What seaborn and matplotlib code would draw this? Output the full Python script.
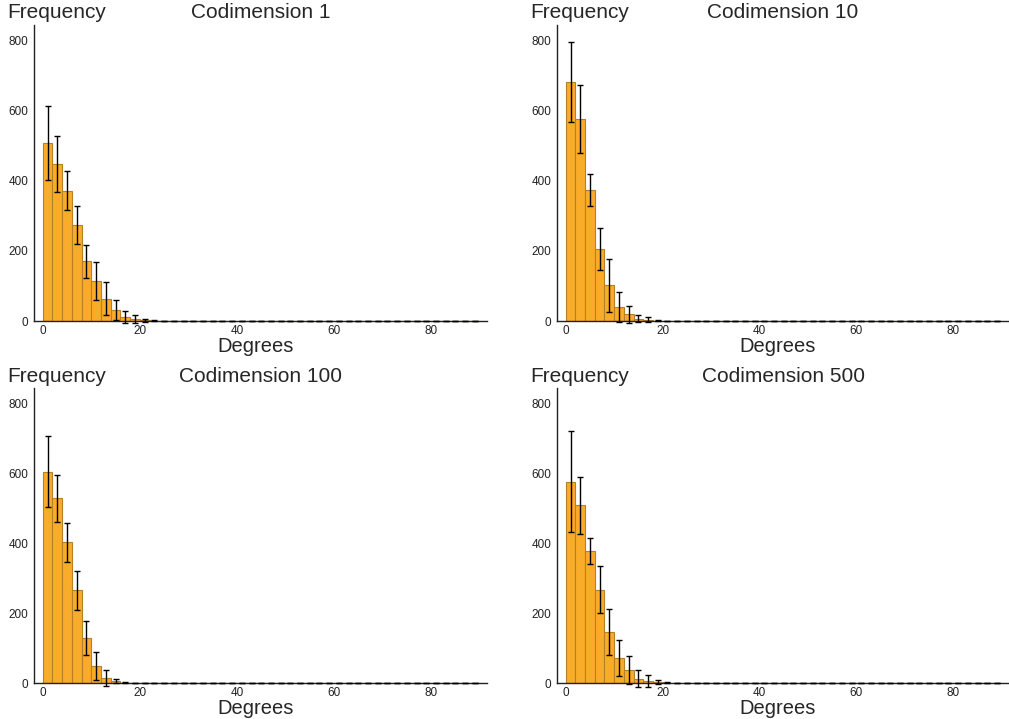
"""
Histograms of angles (in degrees) for four codimensions, with error bars.
"""
import numpy as np
import pandas as pd
from matplotlib import pyplot as plt
import seaborn as sns

# Bin centres: 2-degree bins from 0 to 90
bin_centers = list(range(1, 90, 2))

titles = ["Codimension 1", "Codimension 10", "Codimension 100", "Codimension 500"]

freq_codim1 = [508, 447, 372, 274, 170, 114, 64, 31, 11, 5, 2, 1, 0, 0, 0,
               0, 0, 0, 0, 0, 0, 0, 0, 0, 0, 0, 0, 0, 0, 0,
               0, 0, 0, 0, 0, 0, 0, 0, 0, 0, 0, 0, 0, 0, 0]
err_codim1 = [106, 80, 55, 53, 47, 54, 46, 28, 17, 11, 4, 2, 1, 0, 0,
              0, 0, 0, 0, 0, 0, 0, 0, 0, 0, 0, 0, 0, 0, 0,
              0, 0, 0, 0, 0, 0, 0, 0, 0, 0, 0, 0, 0, 0, 0]

freq_codim10 = [682, 577, 374, 205, 102, 40, 19, 7, 4, 1, 0, 0, 0, 0, 0,
                0, 0, 0, 0, 0, 0, 0, 0, 0, 0, 0, 0, 0, 0, 0,
                0, 0, 0, 0, 0, 0, 0, 0, 0, 0, 0, 0, 0, 0, 0]
err_codim10 = [114, 96, 47, 60, 76, 43, 25, 11, 6, 2, 1, 0, 0, 0, 0,
               0, 0, 0, 0, 0, 0, 0, 0, 0, 0, 0, 0, 0, 0, 0,
               0, 0, 0, 0, 0, 0, 0, 0, 0, 0, 0, 0, 0, 0, 0]

freq_codim100 = [605, 529, 403, 266, 130, 49, 14, 6, 1, 0, 0, 0, 0, 0, 0,
                 0, 0, 0, 0, 0, 0, 0, 0, 0, 0, 0, 0, 0, 0, 0,
                 0, 0, 0, 0, 0, 0, 0, 0, 0, 0, 0, 0, 0, 0, 0]
err_codim100 = [102, 68, 56, 56, 49, 40, 22, 5, 2, 1, 0, 0, 0, 0, 0,
                0, 0, 0, 0, 0, 0, 0, 0, 0, 0, 0, 0, 0, 0, 0,
                0, 0, 0, 0, 0, 0, 0, 0, 0, 0, 0, 0, 0, 0, 0]

freq_codim500 = [577, 509, 379, 267, 146, 72, 36, 12, 6, 3, 1, 0, 0, 0, 0,
                 0, 0, 0, 0, 0, 0, 0, 0, 0, 0, 0, 0, 0, 0, 0,
                 0, 0, 0, 0, 0, 0, 0, 0, 0, 0, 0, 0, 0, 0, 0]
err_codim500 = [145, 81, 37, 67, 66, 52, 40, 24, 18, 7, 2, 1, 0, 0, 0,
                0, 0, 0, 0, 0, 0, 0, 0, 0, 0, 0, 0, 0, 0, 0,
                0, 0, 0, 0, 0, 0, 0, 0, 0, 0, 0, 0, 0, 0, 0]

freqs = [freq_codim1, freq_codim10, freq_codim100, freq_codim500]
errs = [err_codim1, err_codim10, err_codim100, err_codim500]

yticks = [0, 200, 400, 600, 800]
xticks = [0, 20, 40, 60, 80]

bar_color = "#F9AC29"
edge_color = "#B88024"

sns.set_style("white")
plt.rcParams["font.family"] = ["Liberation Sans", "DejaVu Sans"]

W, H = 1009, 719
fig = plt.figure(figsize=(W / 100, H / 100), dpi=100)

# Axes boxes in pixels: (left, top, right, bottom)
boxes = [(34, 25, 487, 321), (557, 25, 1009, 321),
         (34, 388, 487, 683), (557, 388, 1009, 683)]

for k in range(4):
    l, t, r, b = boxes[k]
    ax = fig.add_axes([l / W, 1 - b / H, (r - l) / W, (b - t) / H])

    df = pd.DataFrame({"deg": bin_centers, "freq": freqs[k], "err": errs[k]})
    sns.barplot(
        data=df, x="deg", y="freq", native_scale=True, width=1.0,
        color=bar_color, saturation=1.0, edgecolor=edge_color,
        linewidth=0.8, errorbar=None, ax=ax,
    )
    ax.errorbar(
        df["deg"], df["freq"], yerr=df["err"], fmt="none",
        ecolor="black", elinewidth=1.0, capsize=2.2, capthick=1.0,
        clip_on=False, zorder=5,
    )

    ax.set_xlim(-1.8, 91.5)
    ax.set_ylim(0, 845)
    ax.set_xticks(xticks)
    ax.set_yticks(yticks)
    ax.set_xticklabels([str(v) for v in xticks], fontsize=8.5, color="#222222")
    ax.set_yticklabels([str(v) for v in yticks], fontsize=8.5, color="#222222")
    ax.tick_params(axis="x", length=0, pad=3)
    ax.tick_params(axis="y", length=0, pad=4)
    ax.set_xlabel("")
    ax.set_ylabel("")

    sns.despine(ax=ax)
    for s in ["left", "bottom"]:
        ax.spines[s].set_color("#222222")
        ax.spines[s].set_linewidth(1.0)

    # Labels around the panel
    fig.text((l - 27) / W, 1 - (t - 12) / H, "Frequency", fontsize=15,
             ha="left", va="center")
    fig.text((l + r) / 2 / W, 1 - (t - 12) / H, titles[k], fontsize=15,
             ha="center", va="center")
    fig.text((l + r) / 2 / W - 5 / W, 1 - (b + 16) / H, "Degrees", fontsize=14.5,
             ha="center", va="top")

plt.savefig("out.png", dpi=100)
